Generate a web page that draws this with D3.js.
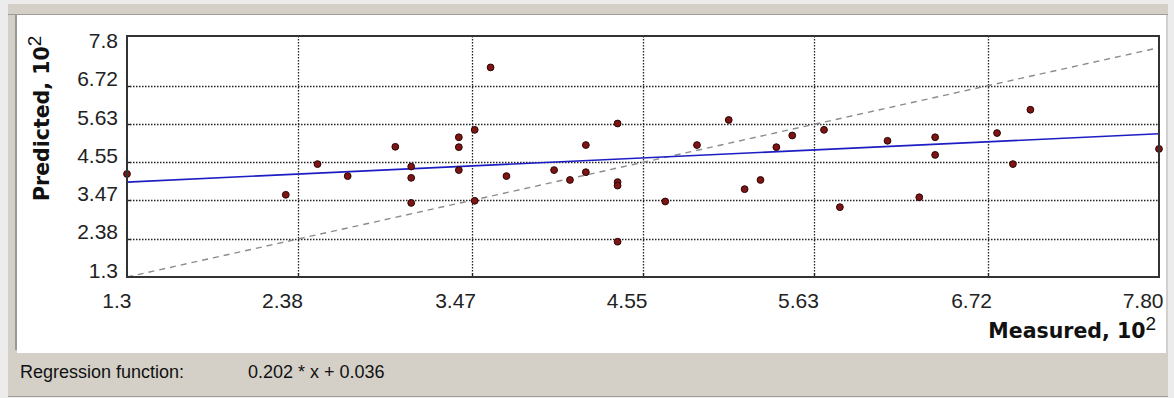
<!DOCTYPE html>
<html>
<head>
<meta charset="utf-8">
<script src="https://cdn.jsdelivr.net/npm/d3@7"></script>
<style>
  html, body { margin: 0; padding: 0; background: #ececec; }
  svg { display: block; }
</style>
</head>
<body>
<svg id="chart" width="1174" height="398"></svg>
<script>
// ---- data ----
const xTickValues = [1.3, 2.38, 3.47, 4.55, 5.63, 6.72, 7.8];
const xTickLabels = ["1.3", "2.38", "3.47", "4.55", "5.63", "6.72", "7.80"];
const yTickValues = [1.3, 2.38, 3.47, 4.55, 5.63, 6.72, 7.8];
const yTickLabels = ["1.3", "2.38", "3.47", "4.55", "5.63", "6.72", "7.8"];

const measured = [1.3, 2.3, 2.5, 2.69, 2.99, 3.09, 3.09, 3.09, 3.39, 3.39, 3.39, 3.49, 3.49, 3.59,
  3.69, 3.99, 4.09, 4.19, 4.19, 4.39, 4.39, 4.39, 4.39, 4.69, 4.89, 5.09, 5.19, 5.29, 5.39,
  5.49, 5.69, 5.79, 6.09, 6.29, 6.39, 6.39, 6.78, 6.88, 6.99, 7.8];
const predicted = [4.22, 3.63, 4.50, 4.16, 4.99, 4.43, 4.11, 3.40, 5.26, 4.98, 4.33, 5.47, 3.46, 7.24,
  4.16, 4.33, 4.05, 5.04, 4.27, 5.65, 3.99, 3.89, 2.30, 3.44, 5.04, 5.75, 3.79, 4.05, 4.98,
  5.31, 5.47, 3.28, 5.16, 3.56, 5.26, 4.76, 5.38, 4.50, 6.04, 4.93];

const regressionX = [1.3, 7.8];
const regressionY = [3.99, 5.36];
const identityX = [1.3, 7.8];
const identityY = [1.3, 7.8];

const xDomain = [1.3, 7.8];
const yDomain = [1.3, 8.13];

const xTitle = "Measured, 10";
const yTitle = "Predicted, 10";
const titleExp = "2";
const footLabel = "Regression function:";
const footFormula = "0.202 * x + 0.036";

// ---- layout ----
const svg = d3.select("#chart");
const plot = { left: 127, right: 1159, top: 36, bottom: 277 };

// window chrome
svg.append("rect").attr("x", 8).attr("y", 4).attr("width", 1160).attr("height", 393).attr("fill", "#d4d0c8");
svg.append("rect").attr("x", 17).attr("y", 15).attr("width", 1149).attr("height", 338).attr("fill", "#ffffff");
svg.append("line").attr("x1", 8).attr("x2", 1168).attr("y1", 14.5).attr("y2", 14.5).attr("stroke", "#a09d96").attr("stroke-width", 1);
svg.append("line").attr("x1", 16).attr("x2", 16).attr("y1", 15).attr("y2", 350).attr("stroke", "#9a9893").attr("stroke-width", 2);
svg.append("line").attr("x1", 1166.5).attr("x2", 1166.5).attr("y1", 15).attr("y2", 353).attr("stroke", "#d0d0d0").attr("stroke-width", 1);
svg.append("line").attr("x1", 8).attr("x2", 1168).attr("y1", 396.5).attr("y2", 396.5).attr("stroke", "#a09d96").attr("stroke-width", 1);

const x = d3.scaleLinear().domain(xDomain).range([plot.left, plot.right]);
const y = d3.scaleLinear().domain(yDomain).range([plot.bottom, plot.top]);

const g = svg.append("g");

// grid
const innerX = xTickValues.slice(1, -1);
const innerY = yTickValues.slice(1, -1);
g.selectAll(".vgrid").data(innerX).join("line")
  .attr("x1", d => Math.round(x(d)) + 0.5).attr("x2", d => Math.round(x(d)) + 0.5)
  .attr("y1", plot.top).attr("y2", plot.bottom)
  .attr("stroke", "#222").attr("stroke-width", 1.3).attr("stroke-dasharray", "1.5,1.5");
g.selectAll(".hgrid").data(innerY).join("line")
  .attr("y1", d => Math.round(y(d)) + 0.5).attr("y2", d => Math.round(y(d)) + 0.5)
  .attr("x1", plot.left).attr("x2", plot.right)
  .attr("stroke", "#222").attr("stroke-width", 1.3).attr("stroke-dasharray", "1.5,1.5");
// small inner tick marks
g.selectAll(".vtick").data(innerX).join("line")
  .attr("x1", d => Math.round(x(d)) + 0.5).attr("x2", d => Math.round(x(d)) + 0.5)
  .attr("y1", plot.bottom - 4).attr("y2", plot.bottom)
  .attr("stroke", "#222").attr("stroke-width", 1.3);
g.selectAll(".htick").data(innerY).join("line")
  .attr("y1", d => Math.round(y(d)) + 0.5).attr("y2", d => Math.round(y(d)) + 0.5)
  .attr("x1", plot.left).attr("x2", plot.left + 4)
  .attr("stroke", "#222").attr("stroke-width", 1.3);

// identity (dashed)
const line = d3.line().x(d => x(d[0])).y(d => y(d[1]));
g.append("path")
  .datum(d3.zip(identityX, identityY))
  .attr("d", line).attr("fill", "none")
  .attr("stroke", "#8c8c8c").attr("stroke-width", 1.4).attr("stroke-dasharray", "6,5");

// regression line
g.append("path")
  .datum(d3.zip(regressionX, regressionY))
  .attr("d", line).attr("fill", "none")
  .attr("stroke", "#1d1dc4").attr("stroke-width", 1.6);

// points
g.selectAll(".pt").data(d3.zip(measured, predicted)).join("circle")
  .attr("cx", d => x(d[0])).attr("cy", d => y(d[1])).attr("r", 3.4)
  .attr("fill", "#7e1414").attr("stroke", "#2b0505").attr("stroke-width", 1);

// frame
svg.append("rect")
  .attr("x", plot.left).attr("y", plot.top)
  .attr("width", plot.right - plot.left).attr("height", plot.bottom - plot.top)
  .attr("fill", "none").attr("stroke", "#333").attr("stroke-width", 2);

// axes (labels only)
const xAxis = d3.axisBottom(x).tickValues(xTickValues).tickSize(0)
  .tickFormat((d, i) => xTickLabels[i]);
const xg = svg.append("g").attr("transform", `translate(0,${plot.bottom})`).call(xAxis);
xg.select(".domain").remove();
xg.selectAll("text")
  .attr("font-family", "Liberation Sans, Arial, sans-serif").attr("font-size", 21)
  .attr("fill", "#222").attr("text-anchor", "end").attr("x", 4).attr("y", 31).attr("dy", 0);

const yAxis = d3.axisLeft(y).tickValues(yTickValues).tickSize(0)
  .tickFormat((d, i) => yTickLabels[i]);
const yg = svg.append("g").attr("transform", `translate(${plot.left},0)`).call(yAxis);
yg.select(".domain").remove();
yg.selectAll("text")
  .attr("font-family", "Liberation Sans, Arial, sans-serif").attr("font-size", 21)
  .attr("fill", "#222").attr("text-anchor", "end").attr("x", -9).attr("y", 0).attr("dy", 0);

// axis titles
const xt = svg.append("text")
  .attr("x", 1156).attr("y", 338).attr("text-anchor", "end")
  .attr("font-family", "DejaVu Sans, Verdana, sans-serif").attr("font-weight", "bold")
  .attr("font-size", 20.5).attr("fill", "#111");
xt.append("tspan").text(xTitle);
xt.append("tspan").attr("dy", -8).attr("font-size", 19).attr("font-weight", "normal").attr("font-family", "Liberation Sans, Arial, sans-serif").text(titleExp);

const yt = svg.append("text")
  .attr("transform", "translate(49,201) rotate(-90)")
  .attr("text-anchor", "start")
  .attr("font-family", "DejaVu Sans, Verdana, sans-serif").attr("font-weight", "bold")
  .attr("font-size", 20.5).attr("fill", "#111");
yt.append("tspan").text(yTitle);
yt.append("tspan").attr("dy", -8).attr("font-size", 19).attr("font-weight", "normal").attr("font-family", "Liberation Sans, Arial, sans-serif").text(titleExp);

// footer
svg.append("text").attr("x", 20).attr("y", 378)
  .attr("font-family", "Liberation Sans, Arial, sans-serif").attr("font-size", 18).attr("fill", "#111")
  .text(footLabel);
svg.append("text").attr("x", 248).attr("y", 378)
  .attr("font-family", "Liberation Sans, Arial, sans-serif").attr("font-size", 18).attr("fill", "#111")
  .text(footFormula);
</script>
</body>
</html>
